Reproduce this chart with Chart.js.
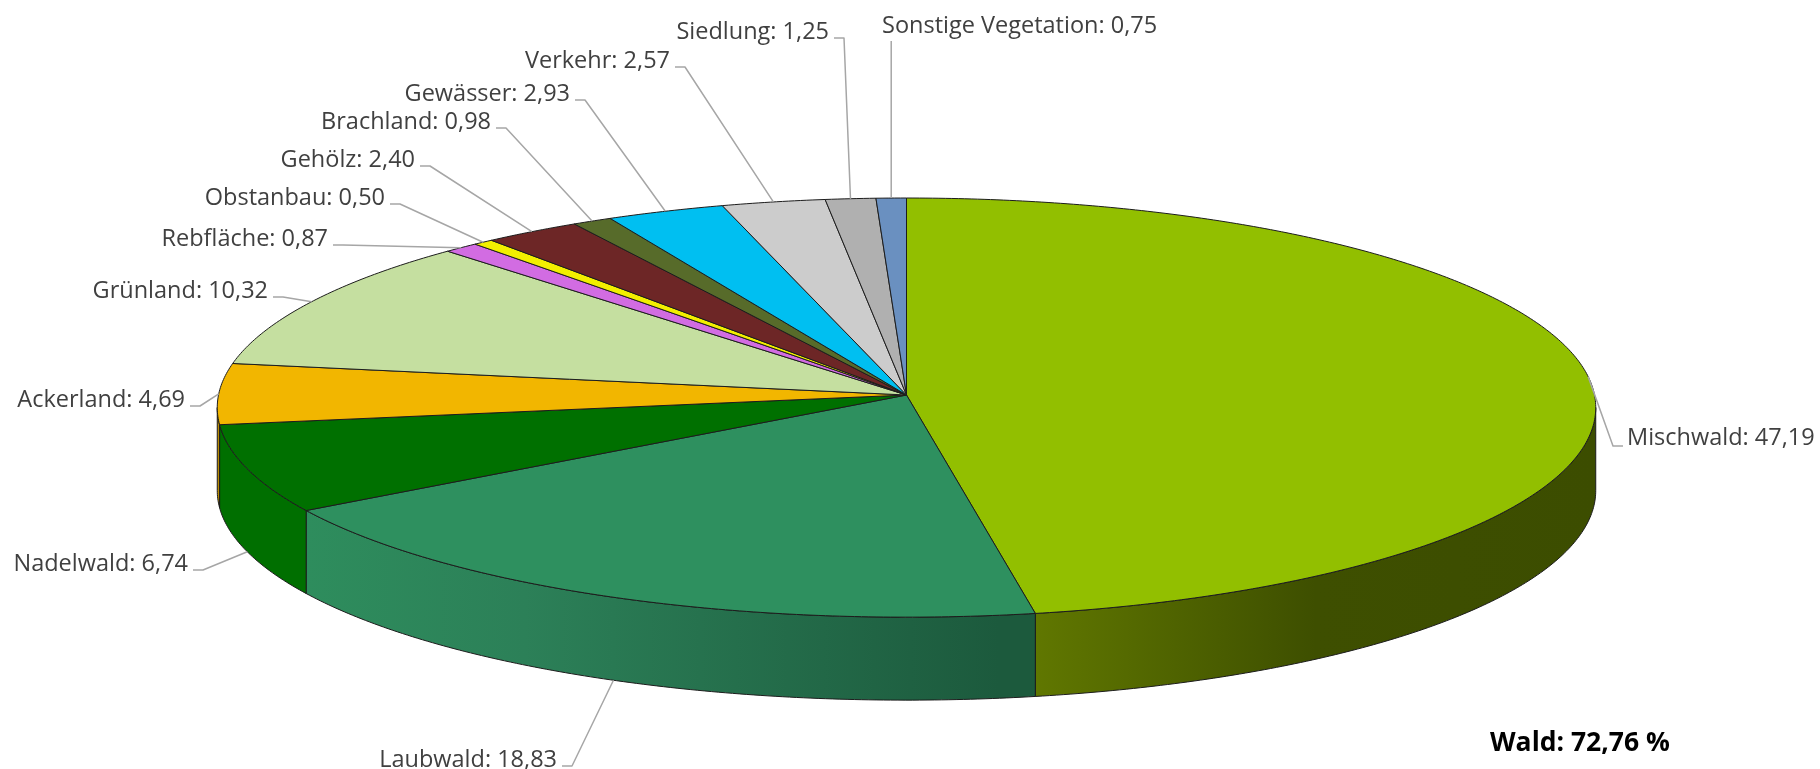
<!DOCTYPE html>
<html lang="de">
<head>
  <meta charset="UTF-8">
  <title>Flächennutzung</title>
  <script src="https://cdn.jsdelivr.net/npm/chart.js"></script>
  <style>
    html, body { margin: 0; padding: 0; background: #fff; overflow: hidden; }
    canvas { display: block; }
  </style>
</head>
<body>
  <canvas id="pie" width="1820" height="769"></canvas>
  <script>
    const categories = ['Mischwald', 'Laubwald', 'Nadelwald', 'Ackerland', 'Grünland', 'Rebfläche', 'Obstanbau',
      'Gehölz', 'Brachland', 'Gewässer', 'Verkehr', 'Siedlung', 'Sonstige Vegetation'];
    const shares = [47.19, 18.83, 6.74, 4.69, 10.32, 0.87, 0.50, 2.40, 0.98, 2.93, 2.57, 1.25, 0.75];
    const totalNote = 'Wald: 72,76 %';

    const sliceColors = ['#92bf00', '#2e905f', '#007000', '#f2b600', '#c5dfa0', '#d26ce2', '#f2ef00',
      '#6d2626', '#576b2a', '#00bff1', '#cccccc', '#b0b0b0', '#6a90c0'];
    // wall shading per slice, only the ones that reach the front
    const wallShades = [
      [[0, '#607700'], [0.5, '#3e4f00'], [1, '#3c4d00']],
      [[0, '#2e8d5d'], [0.3, '#2c8058'], [0.95, '#1c5a3d'], [1, '#1c5a3d']],
      [[0, '#006f00'], [1, '#006f00']],
      [[0, '#b88a00'], [1, '#b88a00']]
    ];

    // where each label sits: side of the text relative to its leader, anchor x, centre y
    const labelSpots = [
      { side: 'left', x: 1627, y: 438 },
      { side: 'right', x: 557, y: 760 },
      { side: 'right', x: 188, y: 564 },
      { side: 'right', x: 185, y: 400 },
      { side: 'right', x: 268, y: 291 },
      { side: 'right', x: 328, y: 239 },
      { side: 'right', x: 385, y: 198 },
      { side: 'right', x: 415, y: 160 },
      { side: 'right', x: 491, y: 122 },
      { side: 'right', x: 570, y: 94 },
      { side: 'right', x: 670, y: 61 },
      { side: 'right', x: 829, y: 32 },
      { side: 'top', x: 882, y: 26 }
    ];

    const TILT = 0.06;     // perspective of the disc
    const FLAT = 0.3035;   // height/width of the disc
    const DEPTH = 83;      // wall height in px
    const FONT = '23.5px "Open Sans"';

    function project(el, angle) {
      const v = Math.sin(angle);
      const s = 1 / (1 - TILT * v);
      return {
        x: el.x + el.outerRadius * Math.cos(angle) * s,
        y: el.y + el.outerRadius * FLAT * v * s
      };
    }

    function rimPoints(el, from, to) {
      const steps = Math.max(2, Math.ceil((to - from) / 0.01));
      const pts = [];
      for (let i = 0; i <= steps; i++) {
        pts.push(project(el, from + (to - from) * i / steps));
      }
      return pts;
    }

    class Arc3d extends Chart.ArcElement {
      static id = 'arc3d';

      draw(ctx) {
        const el = this.getProps(['x', 'y', 'startAngle', 'endAngle', 'outerRadius'], true);
        ctx.beginPath();
        ctx.moveTo(el.x, el.y);
        rimPoints(el, el.startAngle, el.endAngle).forEach(p => ctx.lineTo(p.x, p.y));
        ctx.closePath();
        ctx.fillStyle = this.options.backgroundColor;
        ctx.fill();
        ctx.lineJoin = 'round';
        ctx.strokeStyle = this.options.borderColor;
        ctx.lineWidth = this.options.borderWidth;
        ctx.stroke();
      }

      drawWall(ctx, stops) {
        const el = this.getProps(['x', 'y', 'startAngle', 'endAngle', 'outerRadius'], true);
        const from = Math.max(el.startAngle, TILT);
        const to = Math.min(el.endAngle, Math.PI - TILT);
        if (to <= from || !stops) return;
        const rim = rimPoints(el, from, to);
        const xs = rim.map(p => p.x);
        const grad = ctx.createLinearGradient(Math.min(...xs), 0, Math.max(...xs), 0);
        stops.forEach(s => grad.addColorStop(s[0], s[1]));
        ctx.beginPath();
        rim.forEach((p, i) => i ? ctx.lineTo(p.x, p.y) : ctx.moveTo(p.x, p.y));
        rim.slice().reverse().forEach(p => ctx.lineTo(p.x, p.y + DEPTH));
        ctx.closePath();
        ctx.fillStyle = grad;
        ctx.fill();
        ctx.strokeStyle = this.options.borderColor;
        ctx.lineWidth = this.options.borderWidth;
        ctx.stroke();
      }
    }

    class Pie3dController extends Chart.PieController {
      static id = 'pie3d';
      static defaults = { dataElementType: 'arc3d' };

      draw() {
        const ctx = this.chart.ctx;
        const arcs = this.getMeta().data;
        arcs.forEach((arc, i) => arc.drawWall(ctx, wallShades[i]));
        arcs.forEach(arc => arc.draw(ctx));
      }
    }

    Chart.register(Arc3d, Pie3dController);

    const labelPlugin = {
      id: 'leaderLabels',
      afterDatasetsDraw(chart) {
        const ctx = chart.ctx;
        const arcs = chart.getDatasetMeta(0).data;
        ctx.save();
        ctx.font = FONT;
        ctx.textBaseline = 'middle';
        arcs.forEach((arc, i) => {
          const spot = labelSpots[i];
          const mid = (arc.startAngle + arc.endAngle) / 2;
          const end = project(arc, mid);
          if (Math.sin(mid) > 0.1) end.y += DEPTH;

          ctx.beginPath();
          if (spot.side === 'top') {
            ctx.moveTo(end.x, spot.y + 15);
          } else if (spot.side === 'right') {
            ctx.moveTo(spot.x + 5, spot.y + 6);
            ctx.lineTo(spot.x + 15, spot.y + 6);
          } else {
            ctx.moveTo(spot.x - 4, spot.y + 8);
            ctx.lineTo(spot.x - 14, spot.y + 8);
          }
          ctx.lineTo(end.x, end.y);
          ctx.strokeStyle = '#a6a6a6';
          ctx.lineWidth = 1.5;
          ctx.stroke();

          const text = categories[i] + ': ' + shares[i].toFixed(2).replace('.', ',');
          ctx.fillStyle = '#404040';
          ctx.textAlign = spot.side === 'right' ? 'right' : 'left';
          ctx.fillText(text, spot.x, spot.y);
        });

        ctx.font = 'bold 26.5px "Open Sans"';
        ctx.fillStyle = '#000';
        ctx.textAlign = 'left';
        ctx.fillText(totalNote, 1490, 743);
        ctx.restore();
      }
    };

    new Chart(document.getElementById('pie'), {
      type: 'pie3d',
      data: {
        labels: categories,
        datasets: [{
          data: shares,
          backgroundColor: sliceColors,
          borderColor: '#1c1c1c',
          borderWidth: 1,
          radius: 688,
          clip: false
        }]
      },
      options: {
        responsive: false,
        animation: false,
        layout: { padding: { top: 21, right: 7 } },
        plugins: { legend: { display: false }, tooltip: { enabled: false } }
      },
      plugins: [labelPlugin]
    });
  </script>
</body>
</html>
